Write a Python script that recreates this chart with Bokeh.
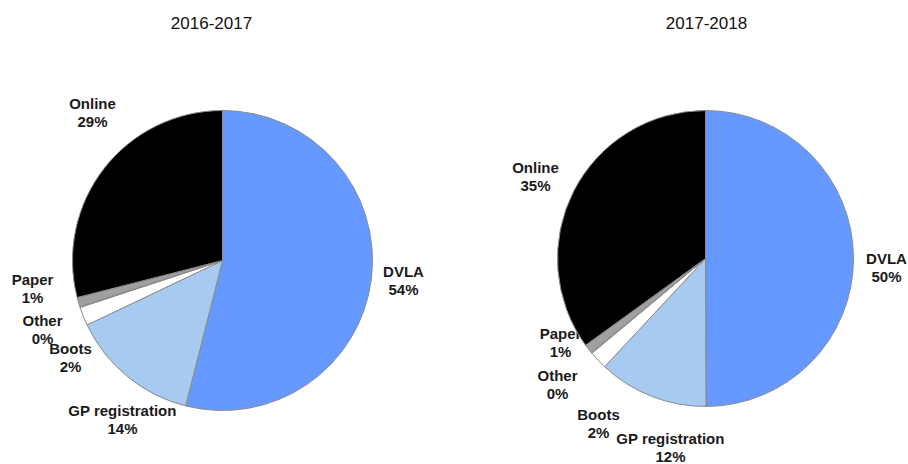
import numpy as np
from bokeh.plotting import figure
from bokeh.models import Range1d, ColumnDataSource
from bokeh.embed import file_html
from bokeh.resources import INLINE
from bokeh.core.properties import value

# ---- data ----
categories = ["DVLA", "GP registration", "Boots", "Other", "Paper", "Online"]
values_2016 = [54, 14, 2, 0.1, 1, 29]
values_2017 = [50, 12, 2, 0.1, 1, 35]
pct_2016 = ["54%", "14%", "2%", "0%", "1%", "29%"]
pct_2017 = ["50%", "12%", "2%", "0%", "1%", "35%"]
titles = ["2016-2017", "2017-2018"]

# ---- styling / layout ----
colors = ["#6699FF", "#A6CAF0", "#FFFFFF", "#FFFFFF", "#A0A0A0", "#000000"]
W, H = 908, 464
# pixel positions (page coords) of pie centres, radius
pies = [
    dict(vals=values_2016, pct=pct_2016, title=titles[0], cx=222, cy=260, r=150, tx=211,
         lab=[(403, 280), (122, 419), (70, 357), (42, 329), (32, 288), (92, 112)]),
    dict(vals=values_2017, pct=pct_2017, title=titles[1], cx=705, cy=258, r=148, tx=706,
         lab=[(886, 267), (670, 447), (598, 423), (557, 384), (560, 342), (535, 176)]),
]

def Y(py):
    return H - py

p = figure(width=W, height=H, output_backend="svg", toolbar_location=None,
           x_range=Range1d(0, W), y_range=Range1d(0, H),
           min_border=0)
p.axis.visible = False
p.grid.visible = False
p.outline_line_color = None
p.background_fill_color = "white"

font = value("Liberation Sans")

for pie in pies:
    vals = np.array(pie["vals"], dtype=float)
    frac = vals / vals.sum()
    c1 = np.cumsum(frac)
    c0 = c1 - frac
    start = np.pi / 2 - 2 * np.pi * c0
    end = np.pi / 2 - 2 * np.pi * c1

    # labels first (wedges drawn over them, as in reference)
    texts = [f"{c}\n{t}" for c, t in zip(categories, pie["pct"])]
    lsrc = ColumnDataSource(dict(
        x=[xy[0] for xy in pie["lab"]],
        y=[Y(xy[1]) for xy in pie["lab"]],
        text=texts))
    p.text(x="x", y="y", text="text", source=lsrc, text_font=font,
           text_font_size="15px", text_font_style="bold", text_color="#1a1a1a",
           text_align="center", text_baseline="middle", text_line_height=1.05)

    src = ColumnDataSource(dict(start=start, end=end, color=colors, cat=categories))
    p.wedge(x=pie["cx"], y=Y(pie["cy"]), radius=pie["r"], start_angle="start",
            end_angle="end", direction="clock", fill_color="color",
            line_color="#8a8a8a", line_width=1, source=src)

    p.text(x=[pie["tx"]], y=[Y(22)], text=[pie["title"]], text_font=font,
           text_font_size="17px", text_color="#111111", text_align="center",
           text_baseline="middle")

open("out.html", "w").write(file_html(p, INLINE))
